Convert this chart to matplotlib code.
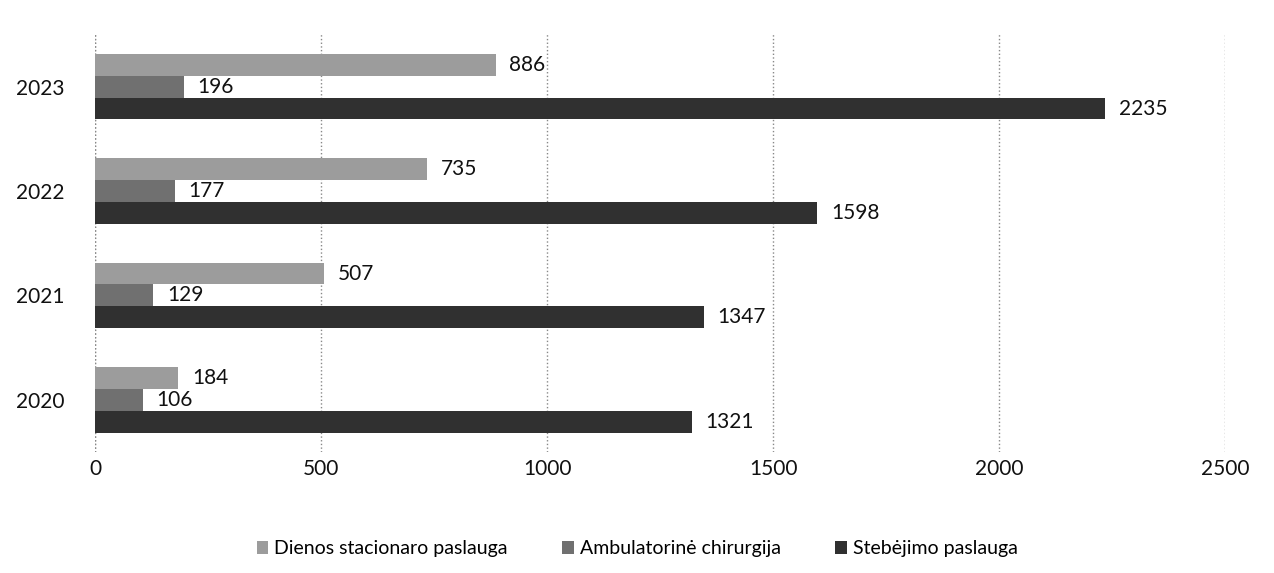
import matplotlib
matplotlib.use("Agg")
import matplotlib.pyplot as plt
import numpy as np

years = ["2020", "2021", "2022", "2023"]
dienos = [184, 507, 735, 886]
ambul = [106, 129, 177, 196]
stebej = [1321, 1347, 1598, 2235]
labels = ["Dienos stacionaro paslauga", "Ambulatorinė chirurgija", "Stebėjimo paslauga"]
colors = ["#9c9c9c", "#707070", "#303030"]
xticks = [0, 500, 1000, 1500, 2000, 2500]

plt.rcParams["font.family"] = ["Lato", "DejaVu Sans"]

fig = plt.figure(figsize=(12.74, 5.73), dpi=100)
ax = fig.add_axes([0.0746, 0.211, 0.887, 0.729])

y = np.arange(len(years))
h = 0.21
series = [dienos, ambul, stebej]
offsets = [h, 0, -h]
for vals, off, col, lab in zip(series, offsets, colors, labels):
    bars = ax.barh(y + off, vals, height=h, color=col, label=lab, zorder=2)
    for b, v in zip(bars, vals):
        ax.text(v + 30, b.get_y() + h / 2, str(v), va="center", ha="left",
                fontsize=15, color="#111111", zorder=3)

ax.set_xlim(0, 2500)
ax.set_ylim(-0.5, 3.5)
ax.set_xticks(xticks)
ax.set_yticks(y, years)
ax.tick_params(length=0, labelsize=15, colors="#111111")
ax.tick_params(axis="x", pad=5)
ax.tick_params(axis="y", pad=22)
ax.grid(axis="x", ls=":", color="#888888", lw=1, zorder=0)
for s in ax.spines.values():
    s.set_visible(False)
ax.axvline(0, ls=":", color="#888888", lw=1, zorder=0)

fig.legend(handles=ax.get_legend_handles_labels()[0], labels=labels,
           loc="center", bbox_to_anchor=(0.5, 0.042), ncol=3, frameon=False,
           fontsize=14, handlelength=0.6, handleheight=0.6,
           handletextpad=0.3, columnspacing=2.8)

fig.savefig("out.png", dpi=100)
